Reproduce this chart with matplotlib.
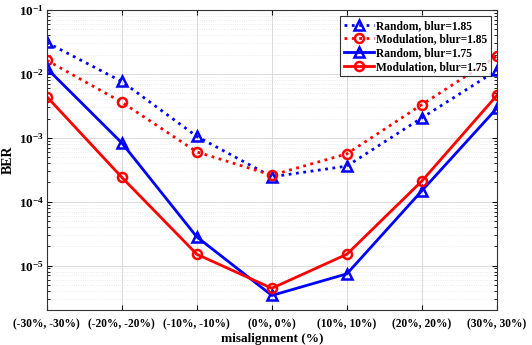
import numpy as np
import matplotlib
matplotlib.use('Agg')
import matplotlib.pyplot as plt
from matplotlib.ticker import LogLocator, NullFormatter

labels = ['(-30%, -30%)', '(-20%, -20%)', '(-10%, -10%)', '(0%, 0%)',
          '(10%, 10%)', '(20%, 20%)', '(30%, 30%)']
random_185 = [3.1e-2, 7.6e-3, 1.05e-3, 2.45e-4, 3.6e-4, 2.05e-3, 1.14e-2]
modul_185 = [1.63e-2, 3.6e-3, 6.0e-4, 2.6e-4, 5.6e-4, 3.3e-3, 1.9e-2]
random_175 = [1.22e-2, 8.3e-4, 2.8e-5, 3.4e-6, 7.4e-6, 1.48e-4, 2.9e-3]
modul_175 = [4.4e-3, 2.4e-4, 1.5e-5, 4.4e-6, 1.5e-5, 2.1e-4, 4.6e-3]

plt.rcParams['font.family'] = ['Liberation Serif', 'DejaVu Serif']
plt.rcParams['font.weight'] = 'bold'
plt.rcParams['mathtext.fontset'] = 'custom'
plt.rcParams['mathtext.rm'] = 'Liberation Serif:bold'
plt.rcParams['mathtext.it'] = 'Liberation Serif:bold'
plt.rcParams['mathtext.bf'] = 'Liberation Serif:bold'

fig = plt.figure(figsize=(5.32, 3.45), dpi=100)
ax = fig.add_axes([0.088, 0.101, 0.846, 0.87])

x = np.arange(len(labels))
ax.plot(x, random_185, ':', color='#0000ff', lw=2, marker='^', ms=6.5, mfc='none', mew=1.8,
        label='Random, blur=1.85')
ax.plot(x, modul_185, ':', color='#ff0000', lw=2, marker='o', ms=6.5, mfc='none', mew=1.8,
        label='Modulation, blur=1.85')
ax.plot(x, random_175, '-', color='#0000ff', lw=2, marker='^', ms=6.5, mfc='none', mew=1.8,
        label='Random, blur=1.75')
ax.plot(x, modul_175, '-', color='#ff0000', lw=2, marker='o', ms=6.5, mfc='none', mew=1.8,
        label='Modulation, blur=1.75')

ax.set_yscale('log')
ax.set_ylim(2e-6, 1e-1)
ax.set_xlim(0, 6)
ax.set_xticks(x)
ax.set_xticklabels(labels, fontsize=8.3, fontweight='bold')
ax.yaxis.set_major_locator(LogLocator(base=10, numticks=10))
ax.yaxis.set_minor_locator(LogLocator(base=10, subs=np.arange(2, 10), numticks=10))
ax.yaxis.set_minor_formatter(NullFormatter())
for t in ax.get_yticklabels():
    t.set_fontsize(9.5)

ax.tick_params(which='both', direction='in', top=True, right=True)
ax.tick_params(axis='x', which='minor', bottom=False, top=False)
ax.tick_params(axis='x', pad=6)
ax.tick_params(axis='y', pad=2)
ax.grid(True, which='major', color='#dadada', lw=0.7)
ax.grid(True, which='minor', axis='y', color='#e6e6e6', lw=0.6, ls=':')
for s in ax.spines.values():
    s.set_color('#333333')
    s.set_linewidth(0.8)

ax.set_xlabel('misalignment (%)', fontsize=9.5, fontweight='bold', labelpad=2)
ax.set_ylabel('BER', fontsize=10, fontweight='bold')
ax.yaxis.set_label_coords(-0.072, 0.5)

leg = ax.legend(loc='upper right', fontsize=8.3, frameon=True, fancybox=False,
                edgecolor='black', handlelength=2.6, borderpad=0.3,
                labelspacing=0.15, handletextpad=0.2, borderaxespad=0.55)
leg.get_frame().set_linewidth(0.8)
for t in leg.get_texts():
    t.set_fontweight('bold')

fig.savefig('out.png', dpi=100)
